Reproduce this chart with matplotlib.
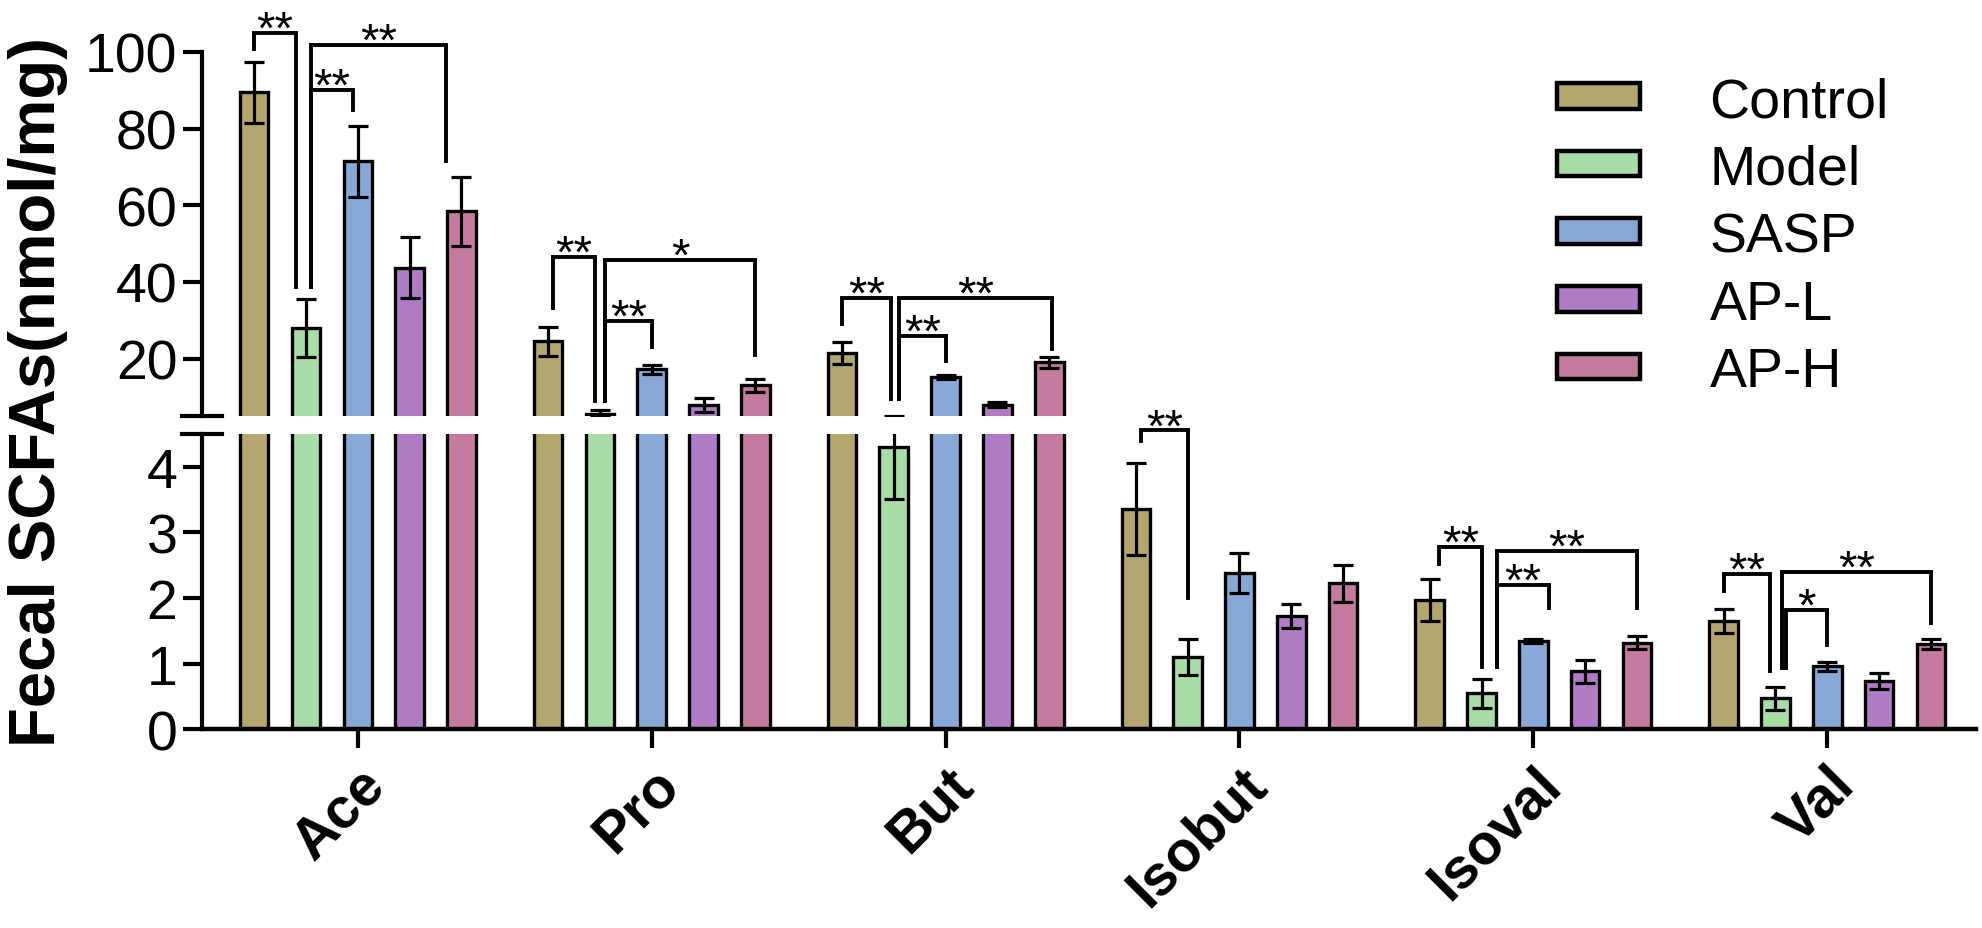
import numpy as np
import matplotlib.pyplot as plt
from matplotlib.patches import Patch

plt.rcParams['font.family'] = ['Liberation Sans', 'DejaVu Sans']

acids = ["Ace", "Pro", "But", "Isobut", "Isoval", "Val"]
groups = ["Control", "Model", "SASP", "AP-L", "AP-H"]
colors = ["#B4A66E", "#A9DDA8", "#88A9D7", "#B07CC6", "#C57B9F"]

control = [89.5, 24.5, 21.5, 3.35, 1.97, 1.65]
control_err = [8.0, 3.7, 2.8, 0.70, 0.32, 0.18]
model = [28.0, 5.6, 4.3, 1.10, 0.55, 0.47]
model_err = [7.5, 0.9, 0.8, 0.27, 0.22, 0.18]
sasp = [71.5, 17.2, 15.2, 2.38, 1.34, 0.96]
sasp_err = [9.3, 1.2, 0.5, 0.30, 0.03, 0.07]
apl = [43.7, 8.0, 8.0, 1.72, 0.88, 0.73]
apl_err = [8.0, 1.8, 0.7, 0.18, 0.17, 0.12]
aph = [58.5, 13.0, 19.0, 2.22, 1.32, 1.30]
aph_err = [9.0, 1.7, 1.5, 0.28, 0.10, 0.08]

values = [control, model, sasp, apl, aph]
errors = [control_err, model_err, sasp_err, apl_err, aph_err]

# significance brackets: (acid, bar a, bar b, off a, off b, top, end a, end b, text, panel)
brackets = [
    (0, 0, 1, 0.0, -0.2, 105.0, 100.7, 38.6, "**", "top"),
    (0, 1, 2, 0.1, -0.1, 90.2, 38.6, 84.9, "**", "top"),
    (0, 1, 4, 0.1, -0.3, 101.7, 38.6, 71.5, "**", "top"),
    (1, 0, 1, 0.1, -0.1, 46.4, 33.1, 9.0, "**", "top"),
    (1, 1, 2, 0.1, 0.0, 29.8, 9.0, 23.0, "**", "top"),
    (1, 1, 4, 0.1, 0.0, 45.7, 9.0, 21.0, "*", "top"),
    (2, 0, 1, 0.0, -0.06, 35.8, 29.1, 9.5, "**", "top"),
    (2, 1, 2, 0.1, 0.0, 25.9, 9.5, 19.5, "**", "top"),
    (2, 1, 4, 0.1, 0.05, 35.8, 9.5, 22.5, "**", "top"),
    (3, 0, 1, 0.1, 0.0, 4.55, 4.39, 2.0, "**", "low"),
    (4, 0, 1, 0.18, 0.0, 2.78, 2.52, 0.95, "**", "low"),
    (4, 1, 2, 0.3, 0.3, 2.2, 0.95, 1.85, "**", "low"),
    (4, 1, 4, 0.3, 0.0, 2.72, 0.95, 1.85, "**", "low"),
    (5, 0, 1, 0.0, -0.1, 2.37, 2.1, 0.88, "**", "low"),
    (5, 1, 2, 0.2, 0.0, 1.81, 0.93, 1.28, "*", "low"),
    (5, 1, 4, 0.13, 0.0, 2.4, 0.93, 1.61, "**", "low"),
]

group_gap = 5.67
centers = np.arange(len(acids)) * group_gap
offsets = np.arange(len(groups)) - 2

fig = plt.figure(figsize=(19.83, 9.29), dpi=100)
L, W = 0.102, 0.8945
ax_top = fig.add_axes([L, 0.551, W, 0.943 - 0.551])
ax_low = fig.add_axes([L, 0.214, W, 0.532 - 0.214])

for ax in (ax_top, ax_low):
    for i in range(len(groups)):
        x = centers + offsets[i]
        ax.bar(x, values[i], width=0.55, color=colors[i], edgecolor='black',
               linewidth=2.4, zorder=2)
        ax.errorbar(x, values[i], yerr=errors[i], fmt='none', ecolor='black',
                    elinewidth=2.3, capsize=7.5, capthick=2.3, zorder=3)
    ax.set_xlim(-3.0, centers[-1] + 2.87)
    for s in ('top', 'right'):
        ax.spines[s].set_visible(False)
    ax.spines['left'].set_linewidth(3)
    ax.tick_params(axis='y', labelsize=40, width=3, length=14, pad=4)

ax_top.set_ylim(5, 100)
ax_top.set_yticks([20, 40, 60, 80, 100])
ax_top.spines['bottom'].set_visible(False)
ax_top.set_xticks([])

ax_low.set_ylim(0, 4.5)
ax_low.set_yticks([0, 1, 2, 3, 4])
ax_low.spines['bottom'].set_linewidth(3.2)
ax_low.set_xticks(centers)
ax_low.set_xticklabels(acids, fontsize=41, fontweight='bold', rotation=45,
                       ha='right', rotation_mode='anchor')
ax_low.tick_params(axis='x', width=3, length=14, pad=6)

# break marks
d = 20 / (W * 1983)
ax_top.plot([-d, d], [0, 0], transform=ax_top.transAxes, color='black',
            lw=3, clip_on=False)
ax_low.plot([-d, d], [1, 1], transform=ax_low.transAxes, color='black',
            lw=3, clip_on=False)

for g, a, b, oa, ob, top, ea, eb, txt, panel in brackets:
    ax = ax_top if panel == "top" else ax_low
    xa = centers[g] + offsets[a] + oa
    xb = centers[g] + offsets[b] + ob
    ax.plot([xa, xa, xb, xb], [ea, top, top, eb], color='black', lw=2.8,
            solid_joinstyle='miter', clip_on=False, zorder=4)
    ax.annotate(txt, xy=((xa + xb) / 2, top), xytext=(0, -7),
                textcoords='offset points', ha='center', va='baseline',
                fontsize=34, annotation_clip=False)

handles = [Patch(facecolor=c, edgecolor='black', linewidth=3.2) for c in colors]
fig.legend(handles, groups, loc='upper left', bbox_to_anchor=(0.785, 0.917),
           frameon=False, fontsize=40, handlelength=1.5, handleheight=0.33,
           handletextpad=1.25, labelspacing=0.28, borderpad=0, borderaxespad=0)

fig.text(0.019, 0.578, "Fecal SCFAs(nmol/mg)", rotation=90, fontsize=47,
         fontweight='bold', ha='center', va='center')

fig.savefig("out.png", dpi=100)
